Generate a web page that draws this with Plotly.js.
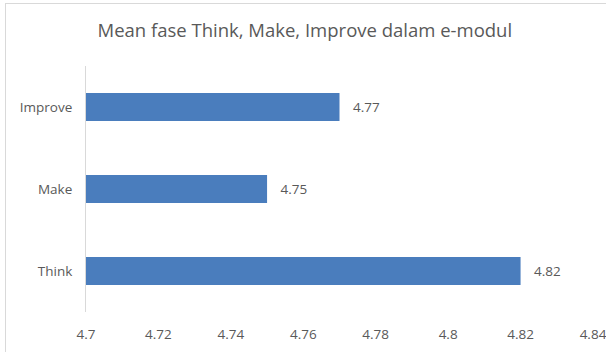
<!DOCTYPE html>
<html>
<head>
<meta charset="utf-8">
<script src="https://cdn.plot.ly/plotly-3.0.1.min.js"></script>
<style>
  html, body { margin: 0; padding: 0; background: #ffffff; }
  #wrap { position: relative; width: 606px; height: 352px; }
  #chart { position: absolute; left: 0; top: 0; width: 606px; height: 352px; }
  #frame { position: absolute; left: 5px; top: 3px; width: 610px; height: 360px;
           border-left: 1px solid #d9d9d9; border-top: 1px solid #d9d9d9; pointer-events: none; }
</style>
</head>
<body>
<div id="wrap">
  <div id="chart"></div>
  <div id="frame"></div>
</div>
<script>
const categories = ["Think", "Make", "Improve"];
const means = [4.82, 4.75, 4.77];
const xTicks = [4.7, 4.72, 4.74, 4.76, 4.78, 4.8, 4.82, 4.84];
const xTickLabels = ["4.7", "4.72", "4.74", "4.76", "4.78", "4.8", "4.82", "4.84"];
const chartTitle = "Mean fase Think, Make, Improve dalam e-modul";

const fontFam = "'Open Sans', 'Noto Sans', sans-serif";
const txtColor = "#595959";

const trace = {
  type: "bar",
  orientation: "h",
  y: categories,
  x: means.map(v => v - 4.7),
  base: 4.7,
  marker: { color: "#4a7dbd" },
  text: means.map(v => "\u00a0\u00a0\u00a0" + v.toFixed(2)),
  textposition: "outside",
  textfont: { family: fontFam, size: 13.5, color: txtColor },
  cliponaxis: false,
  hoverinfo: "skip"
};

const layout = {
  width: 606,
  height: 352,
  margin: { l: 86, r: 13, t: 66, b: 40, pad: 0 },
  paper_bgcolor: "#ffffff",
  plot_bgcolor: "#ffffff",
  bargap: 0.66,
  showlegend: false,
  title: {
    text: chartTitle,
    font: { family: fontFam, size: 18.5, color: txtColor },
    x: 0.503, xref: "container", xanchor: "center",
    y: 0.912, yref: "container", yanchor: "middle"
  },
  xaxis: {
    range: [4.7, 4.84],
    tickvals: xTicks,
    ticktext: xTickLabels,
    showgrid: false,
    zeroline: false,
    showline: false,
    ticks: "outside",
    ticklen: 10,
    tickcolor: "rgba(0,0,0,0)",
    tickfont: { family: fontFam, size: 13.5, color: txtColor },
    ticklabeloverflow: "allow",
    automargin: false,
    fixedrange: true
  },
  yaxis: {
    type: "category",
    categoryorder: "array",
    categoryarray: categories,
    showgrid: false,
    zeroline: false,
    showline: true,
    linecolor: "#d9d9d9",
    linewidth: 1,
    ticks: "outside",
    ticklen: 10,
    tickcolor: "rgba(0,0,0,0)",
    tickfont: { family: fontFam, size: 13.5, color: txtColor },
    automargin: false,
    fixedrange: true
  }
};

Plotly.newPlot("chart", [trace], layout, { displayModeBar: false, staticPlot: true });
</script>
</body>
</html>
